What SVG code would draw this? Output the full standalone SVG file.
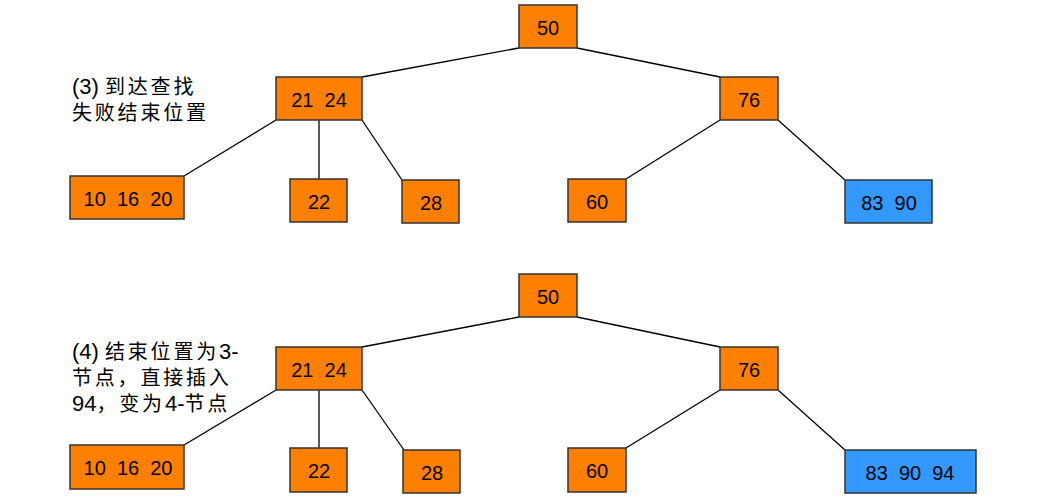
<svg xmlns="http://www.w3.org/2000/svg" width="1059" height="501" viewBox="0 0 1059 501">
<style>
.o{fill:#FF8000;stroke:#333;stroke-width:1.5}
.b{fill:#3399FF;stroke:#333;stroke-width:1.5}
.t{font-family:"Liberation Sans",Arial,sans-serif;font-size:20px;fill:#000;text-anchor:middle;white-space:pre}
.c{font-family:"Liberation Sans","Noto Sans CJK SC",sans-serif;font-size:22px;fill:#000;white-space:pre}
.k{font-size:20px;letter-spacing:2.8px}
.e{stroke:#000;stroke-width:1.3;fill:none}
</style>
<rect width="1059" height="501" fill="#fff"/>
<g id="connectors">
<line class="e" x1="519" y1="48" x2="362" y2="77"/>
<line class="e" x1="577" y1="48" x2="720" y2="77"/>
<line class="e" x1="276" y1="120" x2="184" y2="176"/>
<line class="e" x1="319" y1="120" x2="319" y2="179"/>
<line class="e" x1="362" y1="120" x2="402" y2="180"/>
<line class="e" x1="720" y1="120" x2="626" y2="179"/>
<line class="e" x1="778" y1="120" x2="845" y2="180"/>
<line class="e" x1="519" y1="317" x2="362" y2="347"/>
<line class="e" x1="577" y1="317" x2="720" y2="347"/>
<line class="e" x1="276" y1="390" x2="184" y2="445"/>
<line class="e" x1="319" y1="390" x2="319" y2="448"/>
<line class="e" x1="362" y1="390" x2="404" y2="450"/>
<line class="e" x1="720" y1="390" x2="626" y2="448"/>
<line class="e" x1="778" y1="390" x2="845" y2="450"/>
</g>
<g id="label3">
<text class="c" x="72" y="94" xml:space="preserve">(3) <tspan class="k">到达查找</tspan></text>
<text class="c" x="72" y="120"><tspan class="k">失败结束位置</tspan></text>
</g>
<g id="label4">
<text class="c" x="72" y="359" xml:space="preserve">(4) <tspan class="k">结束位置为</tspan>3-</text>
<text class="c" x="72" y="385"><tspan class="k">节点，直接插入</tspan></text>
<text class="c" x="72" y="411">94<tspan class="k">，变为</tspan>4-<tspan class="k">节点</tspan></text>
</g>
<g id="t1-n50"><rect class="o" x="519" y="5" width="58" height="43"/><text class="t" x="548" y="35">50</text></g>
<g id="t1-n2124"><rect class="o" x="276" y="77" width="86" height="43"/><text class="t" x="319" y="107" xml:space="preserve">21  24</text></g>
<g id="t1-n76"><rect class="o" x="720" y="77" width="58" height="43"/><text class="t" x="749" y="107">76</text></g>
<g id="t1-n101620"><rect class="o" x="70" y="176" width="114" height="43"/><text class="t" x="128" y="206" xml:space="preserve">10  16  20</text></g>
<g id="t1-n22"><rect class="o" x="290" y="179" width="57" height="43"/><text class="t" x="319" y="209">22</text></g>
<g id="t1-n28"><rect class="o" x="402" y="180" width="57" height="43"/><text class="t" x="431" y="210">28</text></g>
<g id="t1-n60"><rect class="o" x="568" y="179" width="58" height="43"/><text class="t" x="597" y="209">60</text></g>
<g id="t1-n8390"><rect class="b" x="845" y="180" width="87" height="43"/><text class="t" x="889" y="210" xml:space="preserve">83  90</text></g>
<g id="t2-n50"><rect class="o" x="519" y="274" width="58" height="43"/><text class="t" x="548" y="304">50</text></g>
<g id="t2-n2124"><rect class="o" x="276" y="347" width="86" height="43"/><text class="t" x="319" y="377" xml:space="preserve">21  24</text></g>
<g id="t2-n76"><rect class="o" x="720" y="347" width="58" height="43"/><text class="t" x="749" y="377">76</text></g>
<g id="t2-n101620"><rect class="o" x="70" y="445" width="114" height="44"/><text class="t" x="128" y="475" xml:space="preserve">10  16  20</text></g>
<g id="t2-n22"><rect class="o" x="290" y="448" width="57" height="44"/><text class="t" x="319" y="478">22</text></g>
<g id="t2-n28"><rect class="o" x="403" y="450" width="57" height="43"/><text class="t" x="432" y="480">28</text></g>
<g id="t2-n60"><rect class="o" x="568" y="448" width="58" height="44"/><text class="t" x="597" y="478">60</text></g>
<g id="t2-n839094"><rect class="b" x="845" y="450" width="131" height="43"/><text class="t" x="910" y="480" xml:space="preserve">83  90  94</text></g>
</svg>
